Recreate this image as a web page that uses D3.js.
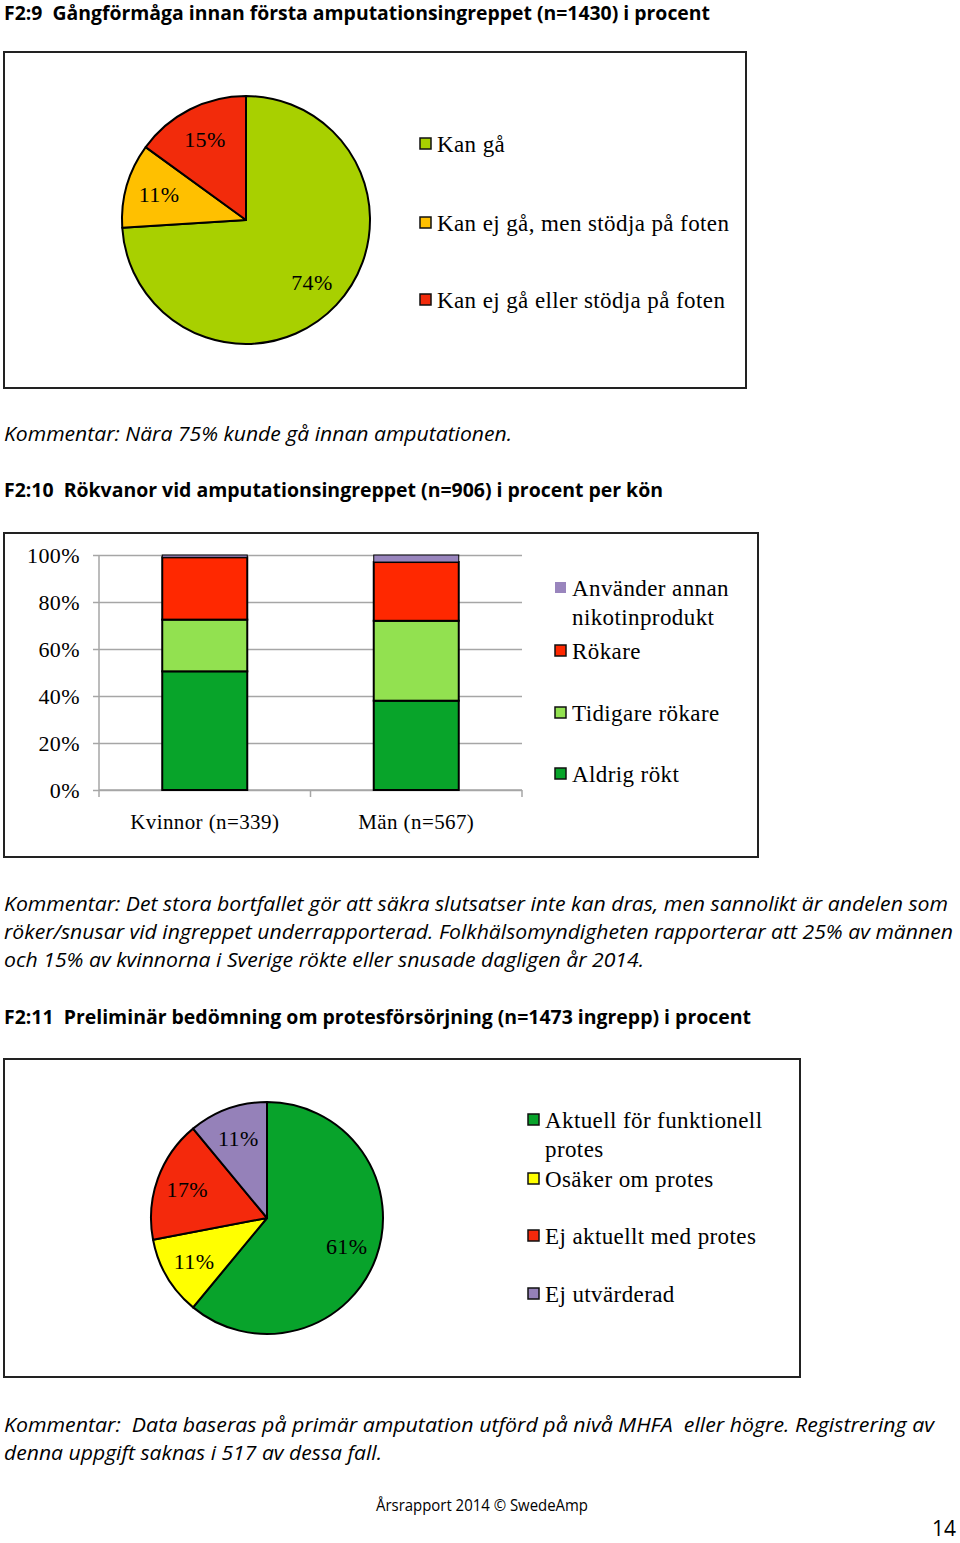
<!DOCTYPE html>
<html>
<head>
<meta charset="utf-8">
<script src="https://cdn.jsdelivr.net/npm/d3@7"></script>
<style>
  body { margin: 0; background: #fff; }
  svg { display: block; }
  text { white-space: pre; }
  .sans { font-family: "Open Sans", "Liberation Sans", sans-serif; }
  .serif { font-family: "Liberation Serif", "DejaVu Serif", serif; letter-spacing: 0.4px; }
</style>
</head>
<body>
<div id="container"></div>
<script>
// --- F2:9 gångförmåga
let walkLabels = ["Kan gå", "Kan ej gå, men stödja på foten", "Kan ej gå eller stödja på foten"];
let walkValues = [74, 11, 15];
let walkColors = ["#a8d000", "#ffc000", "#f22b0b"];

// --- F2:10 rökvanor
let smokeGroups = ["Kvinnor (n=339)", "Män (n=567)"];
let smokeSeries = ["Aldrig rökt", "Tidigare rökare", "Rökare", "Använder annan nikotinprodukt"];
let smokeKvinnor = [50.5, 22, 26.5, 1];
let smokeMan = [38, 34, 25, 3];
let smokeColors = ["#08a42a", "#92e150", "#ff2800", "#9985bd"];
let smokeLegend = [["Använder annan", "nikotinprodukt"], ["Rökare"], ["Tidigare rökare"], ["Aldrig rökt"]];
let yTicks = [0, 20, 40, 60, 80, 100];

// --- F2:11 protesförsörjning
let protLabels = [["Aktuell för funktionell", "protes"], ["Osäker om protes"], ["Ej aktuellt med protes"], ["Ej utvärderad"]];
let protValues = [61, 11, 17, 11];
let protColors = ["#08a32b", "#ffff00", "#f4290c", "#9581b9"];

// texts
let titles = [
  "F2:9  Gångförmåga innan första amputationsingreppet (n=1430) i procent",
  "F2:10  Rökvanor vid amputationsingreppet (n=906) i procent per kön",
  "F2:11  Preliminär bedömning om protesförsörjning (n=1473 ingrepp) i procent"
];
let comment1 = ["Kommentar: Nära 75% kunde gå innan amputationen."];
let comment2 = [
  "Kommentar: Det stora bortfallet gör att säkra slutsatser inte kan dras, men sannolikt är andelen som",
  "röker/snusar vid ingreppet underrapporterad. Folkhälsomyndigheten rapporterar att 25% av männen",
  "och 15% av kvinnorna i Sverige rökte eller snusade dagligen år 2014."
];
let comment3 = [
  "Kommentar:  Data baseras på primär amputation utförd på nivå MHFA  eller högre. Registrering av",
  "denna uppgift saknas i 517 av dessa fall."
];
let footer = "Årsrapport 2014 © SwedeAmp";
let pageNo = "14";

let W = 960, H = 1543;
let svg = d3.select('#container').append('svg').attr('width', W).attr('height', H);

function textLine(str, x, y, len, opts) {
  let t = svg.append('text').attr('class', 'sans')
    .attr('x', x).attr('y', y)
    .attr('font-size', opts.size)
    .attr('font-weight', opts.bold ? 'bold' : 'normal')
    .attr('font-style', opts.italic ? 'italic' : 'normal')
    .attr('fill', '#000')
    .text(str);
  if (len) t.attr('textLength', len).attr('lengthAdjust', 'spacingAndGlyphs');
  if (opts.anchor) t.attr('text-anchor', opts.anchor);
  return t;
}

function box(x0, y0, x1, y1) {
  svg.append('rect').attr('x', x0).attr('y', y0).attr('width', x1 - x0).attr('height', y1 - y0)
    .attr('fill', 'none').attr('stroke', '#222').attr('stroke-width', 2);
}

function legendItem(x, y, color, lines, size, lineGap, noBorder) {
  svg.append('rect').attr('x', x).attr('y', y - 6).attr('width', 11).attr('height', 11)
    .attr('fill', color).attr('stroke', noBorder ? color : '#111').attr('stroke-width', noBorder ? 0 : 1.5);
  lines.forEach(function(l, i) {
    svg.append('text').attr('class', 'serif')
      .attr('x', x + 17).attr('y', y + i * lineGap).attr('dy', '0.35em')
      .attr('font-size', size).text(l);
  });
}

function drawPie(values, colors, cx, cy, r) {
  let pie = d3.pie().sort(null).value(d => d);
  let arcs = pie(values);
  let arc = d3.arc().innerRadius(0).outerRadius(r);
  let labelArc = d3.arc().innerRadius(r * 0.73).outerRadius(r * 0.73);
  let g = svg.append('g').attr('transform', `translate(${cx},${cy})`);
  g.selectAll('path').data(arcs).enter().append('path')
    .attr('d', arc)
    .attr('fill', (d, i) => colors[i])
    .attr('stroke', '#000').attr('stroke-width', 2).attr('stroke-linejoin', 'round');
  g.selectAll('text').data(arcs).enter().append('text')
    .attr('class', 'serif')
    .attr('transform', d => `translate(${labelArc.centroid(d)})`)
    .attr('text-anchor', 'middle').attr('dy', '0.35em')
    .attr('font-size', 22)
    .text(d => d.data + '%');
}

// ===== F2:9 =====
textLine(titles[0], 4, 20, 706, {size: 20, bold: true});
box(4, 52, 746, 388);
drawPie(walkValues, walkColors, 246, 220, 124);
let walkY = [144, 223, 300];
walkLabels.forEach(function(l, i) {
  legendItem(420, walkY[i], walkColors[i], [l], 23, 0);
});
textLine(comment1[0], 4, 441, 508, {size: 20, italic: true});

// ===== F2:10 =====
textLine(titles[1], 4, 497, 659, {size: 20, bold: true});
box(4, 533, 758, 857);

let plotL = 99, plotR = 522, plotT = 555, plotB = 790;
let y = d3.scaleLinear().domain([0, 100]).range([plotB, plotT]);
let xOuter = d3.scaleBand().domain(smokeGroups).range([plotL, plotR]);
let xBar = d3.scaleBand().domain(smokeGroups).range([plotL, plotR]).paddingInner(0.598).paddingOuter(0.299);

// grid + y axis
let yAxis = d3.axisLeft(y).tickValues(yTicks).tickSizeInner(-(plotR - plotL + 6)).tickSizeOuter(0)
  .tickPadding(13).tickFormat(d => d + '%');
let yg = svg.append('g').attr('transform', `translate(${plotL - 6},0)`).call(yAxis);
yg.select('.domain').remove();
yg.selectAll('line').attr('stroke', '#a6a6a6').attr('stroke-width', 1.5);
yg.selectAll('text').attr('class', 'serif').attr('font-size', 22).attr('fill', '#000').attr('font-family', null);
svg.append('line').attr('x1', plotL).attr('x2', plotL).attr('y1', plotT).attr('y2', plotB)
  .attr('stroke', '#a6a6a6').attr('stroke-width', 1.5);

// bottom axis ticks at band edges
let edges = smokeGroups.map(d => xOuter(d)).concat([plotR]);
svg.selectAll('line.xt').data(edges).enter().append('line').attr('class', 'xt')
  .attr('x1', d => d).attr('x2', d => d).attr('y1', plotB).attr('y2', plotB + 7)
  .attr('stroke', '#a6a6a6').attr('stroke-width', 1.5);
let xg = svg.append('g').attr('transform', `translate(0,${plotB})`)
  .call(d3.axisBottom(xOuter).tickSize(0).tickPadding(24));
xg.select('.domain').remove();
xg.selectAll('text').attr('class', 'serif').attr('font-size', 21).attr('fill', '#000').attr('font-family', null);

// stacked bars
let rows = smokeGroups.map(function(g, gi) {
  let row = {group: g};
  let vals = gi === 0 ? smokeKvinnor : smokeMan;
  smokeSeries.forEach((s, si) => row[s] = vals[si]);
  return row;
});
let stacked = d3.stack().keys(smokeSeries)(rows);
svg.append('line').attr('x1', plotL).attr('x2', plotR).attr('y1', plotB).attr('y2', plotB)
  .attr('stroke', '#a6a6a6').attr('stroke-width', 1.5);
stacked.forEach(function(layer, li) {
  svg.selectAll(null).data(layer).enter().append('rect')
    .attr('x', d => xBar(d.data.group))
    .attr('width', xBar.bandwidth())
    .attr('y', d => y(d[1]))
    .attr('height', d => y(d[0]) - y(d[1]))
    .attr('fill', smokeColors[li])
    .attr('stroke', '#000').attr('stroke-width', li === 3 ? 1 : 2);
});

// legend (reverse order)
let smokeLegY = [588, 651, 713, 774];
smokeLegend.forEach(function(lines, i) {
  let ci = smokeSeries.length - 1 - i;
  legendItem(555, smokeLegY[i], smokeColors[ci], lines, 23, 29, ci === 3);
});

textLine(comment2[0], 4, 911, 944, {size: 20, italic: true});
textLine(comment2[1], 4, 939, 949, {size: 20, italic: true});
textLine(comment2[2], 4, 967, 640, {size: 20, italic: true});

// ===== F2:11 =====
textLine(titles[2], 4, 1024, 747, {size: 20, bold: true});
box(4, 1059, 800, 1377);
drawPie(protValues, protColors, 267, 1218, 116);
let protY = [1120, 1179, 1236, 1294];
protLabels.forEach(function(lines, i) {
  legendItem(528, protY[i], protColors[i], lines, 23, 29);
});

textLine(comment3[0], 4, 1432, 930, {size: 20, italic: true});
textLine(comment3[1], 4, 1460, 378, {size: 20, italic: true});

textLine(footer, 376, 1511, 212, {size: 16});
textLine(pageNo, 932, 1536, 24, {size: 21});
</script>
</body>
</html>
